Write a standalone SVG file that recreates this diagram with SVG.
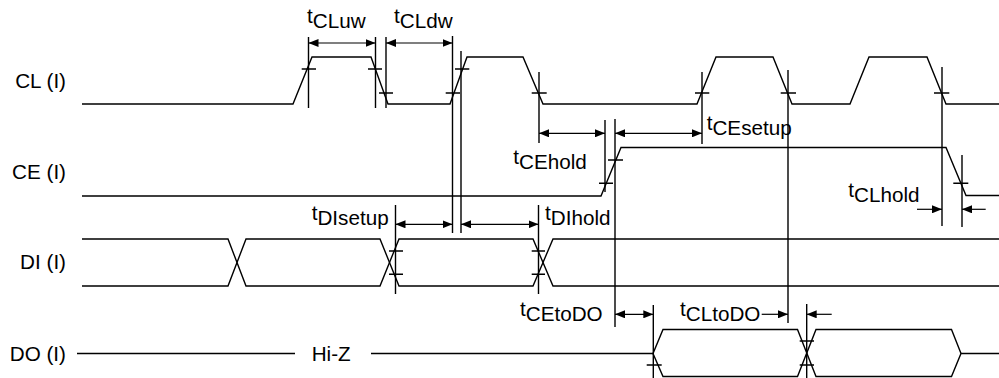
<svg xmlns="http://www.w3.org/2000/svg" width="999" height="378" viewBox="0 0 999 378">
<style>
.w{fill:none;stroke:#000;stroke-width:1.4;stroke-linejoin:miter}
.g{fill:none;stroke:#000;stroke-width:1.4}
.a{fill:none;stroke:#000;stroke-width:1.2}
text{font-family:"Liberation Sans",Arial,sans-serif;font-size:19.5px;fill:#000}
</style>
<defs>
<marker id="ah" viewBox="0 0 10 8" refX="10" refY="4" markerWidth="10" markerHeight="8" markerUnits="userSpaceOnUse" orient="auto-start-reverse">
<path d="M0,0 L10,4 L0,8 z" fill="#000"/>
</marker>
</defs>
<rect width="999" height="378" fill="#fff"/>
<g id="labels">
<text transform="translate(66,88) scale(1.06,1)" text-anchor="end">CL (I)</text>
<text transform="translate(66,179) scale(1.06,1)" text-anchor="end">CE (I)</text>
<text transform="translate(66,269) scale(1.06,1)" text-anchor="end">DI (I)</text>
<text transform="translate(66,360.5) scale(1.06,1)" text-anchor="end">DO (I)</text>
</g>
<g id="CL">
<path class="w" d="M82,104 L293,104 L312,57 L371,57 L388,104 L450,104 L467,57 L523,57 L543,104 L697,104 L716,57 L773,57 L792,104 L850,104 L869,57 L927,57 L946,104 L999,104"/>
</g>
<g id="CE">
<path class="w" d="M82,196 L601,196 L621,147.5 L946,147.5 L966,195.5 L999,195.5"/>
</g>
<g id="DI">
<path class="w" d="M82,239 L228,239 L246,286 L380,286 L399,239 L533,239 L553,286 L999,286"/>
<path class="w" d="M82,286 L228,286 L246,239 L380,239 L399,286 L533,286 L553,239 L999,239"/>
</g>
<g id="DO">
<path class="w" d="M77,353.5 L295,353.5"/>
<text transform="translate(311.7,360.5) scale(1.06,1)">Hi-Z</text>
<path class="w" d="M371,353.5 L653,353.5 L663,329.5 L797.5,329.5 L816,376.5 L951.5,376.5 L961,353.5 L999,353.5"/>
<path class="w" d="M653,353.5 L663,376.5 L797.5,376.5 L816,329.5 L951.5,329.5 L961,353.5"/>
</g>
<g id="connectors">
<g class="g">
<path d="M308.5,37V108M375.5,37V108M386,37V108M452.5,36V233M461,51V233M539,72V143M605,120V192M615,119V327M702,72V144M788,70V323M942,67V226M962,155V227M395.5,205V294M538.5,205V294M653.3,305V378M806.7,304V378"/>
<path d="M301.7,69H316M368,69H382M379,93H393M445.7,93H460M455,69H469.3M531.7,93H546.7M695,93H709.3M780.7,93H796M934,93H949.3M608,160H623M599,183.3H613M953.3,183.3H968.3M389,251H403M389,274.3H403M531.7,251H545M531.7,274.3H545M646.7,365H661.7M799.7,341H814M799.7,365H814"/>
</g>
<g class="a">
<line x1="308.5" y1="43" x2="375.5" y2="43" marker-start="url(#ah)" marker-end="url(#ah)"/>
<line x1="386" y1="43" x2="452.5" y2="43" marker-start="url(#ah)" marker-end="url(#ah)"/>
<line x1="539" y1="133.3" x2="605" y2="133.3" marker-start="url(#ah)" marker-end="url(#ah)"/>
<line x1="615" y1="133.3" x2="702" y2="133.3" marker-start="url(#ah)" marker-end="url(#ah)"/>
<line x1="395.5" y1="224.3" x2="452.5" y2="224.3" marker-start="url(#ah)" marker-end="url(#ah)"/>
<line x1="461" y1="224.3" x2="538.5" y2="224.3" marker-start="url(#ah)" marker-end="url(#ah)"/>
<line x1="615" y1="314.3" x2="653.3" y2="314.3" marker-start="url(#ah)" marker-end="url(#ah)"/>
<line x1="917" y1="209.3" x2="942" y2="209.3" marker-end="url(#ah)"/>
<line x1="985.7" y1="209.3" x2="962" y2="209.3" marker-end="url(#ah)"/>
<line x1="761.7" y1="314.3" x2="788" y2="314.3" marker-end="url(#ah)"/>
<line x1="831.7" y1="314.3" x2="806.7" y2="314.3" marker-end="url(#ah)"/>
</g>
</g>
<g id="timing-labels">
<text transform="translate(307,28) scale(1.06,1)"><tspan dy="-5">t</tspan><tspan dy="5">CLuw</tspan></text>
<text transform="translate(394,28) scale(1.06,1)"><tspan dy="-5">t</tspan><tspan dy="5">CLdw</tspan></text>
<text transform="translate(706.7,134.5) scale(1.06,1)"><tspan dy="-5">t</tspan><tspan dy="5">CEsetup</tspan></text>
<text transform="translate(513.3,168.5) scale(1.06,1)"><tspan dy="-5">t</tspan><tspan dy="5">CEhold</tspan></text>
<text transform="translate(848.3,202) scale(1.06,1)"><tspan dy="-5">t</tspan><tspan dy="5">CLhold</tspan></text>
<text transform="translate(311.7,224.5) scale(1.06,1)"><tspan dy="-5">t</tspan><tspan dy="5">DIsetup</tspan></text>
<text transform="translate(545,224.5) scale(1.06,1)"><tspan dy="-5">t</tspan><tspan dy="5">DIhold</tspan></text>
<text transform="translate(520,321) scale(1.06,1)"><tspan dy="-5">t</tspan><tspan dy="5">CEtoDO</tspan></text>
<text transform="translate(680,321) scale(1.06,1)"><tspan dy="-5">t</tspan><tspan dy="5">CLtoDO</tspan></text>
</g>
</svg>
